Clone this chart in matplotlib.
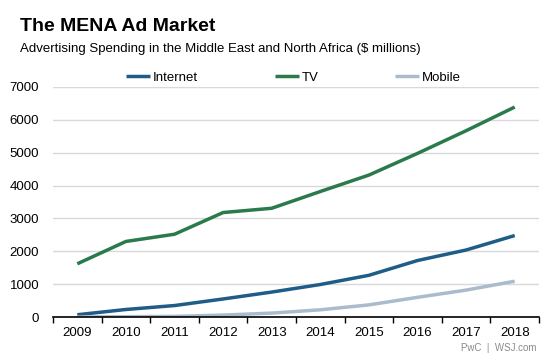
import numpy as np
import matplotlib.pyplot as plt

# Data
years = ['2009', '2010', '2011', '2012', '2013', '2014', '2015', '2016', '2017', '2018']
internet = [70, 230, 350, 550, 760, 990, 1270, 1720, 2040, 2480]
tv = [1620, 2300, 2520, 3180, 3310, 3820, 4320, 4980, 5670, 6390]
mobile = [0, 10, 20, 60, 120, 220, 370, 600, 820, 1090]

c_internet = '#1f5c88'
c_tv = '#2a7a4c'
c_mobile = '#aabccb'

plt.rcParams['font.family'] = ['Liberation Sans', 'DejaVu Sans']

fig = plt.figure(figsize=(5.58, 3.64), dpi=100)
ax = fig.add_axes([0.095, 0.129, 0.871, 0.632])

x = np.arange(len(years))
ax.plot(x, internet, color=c_internet, lw=2.5, label='Internet', solid_capstyle='butt')
ax.plot(x, tv, color=c_tv, lw=2.5, label='TV', solid_capstyle='butt')
ax.plot(x, mobile, color=c_mobile, lw=2.5, label='Mobile', solid_capstyle='butt')

ax.set_xlim(-0.5, len(years) - 0.5)
ax.set_ylim(0, 7000)
ax.set_yticks(range(0, 7001, 1000))
ax.yaxis.grid(True, color='#d9d9d9', lw=1)
ax.set_axisbelow(True)
ax.tick_params(axis='y', length=0, pad=10, labelsize=9.5)

# ticks at category boundaries, labels at centers
ax.set_xticks(np.arange(-0.5, len(years), 1.0))
ax.set_xticklabels([])
ax.set_xticks(x, minor=True)
ax.set_xticklabels(years, minor=True)
ax.tick_params(axis='x', which='major', length=4, width=1, direction='out', color='black')
ax.tick_params(axis='x', which='minor', length=0, pad=7, labelsize=9.5)

for s in ['left', 'right', 'top']:
    ax.spines[s].set_visible(False)
ax.spines['bottom'].set_color('black')
ax.spines['bottom'].set_linewidth(1.2)

fig.text(0.036, 0.915, 'The MENA Ad Market', fontsize=14, fontweight='bold')
fig.text(0.036, 0.858, 'Advertising Spending in the Middle East and North Africa ($ millions)',
         fontsize=9.5)

leg = fig.legend(loc='center left', bbox_to_anchor=(0.226, 0.786), ncol=3, frameon=False,
                 fontsize=9.5, handlelength=1.8, handletextpad=0.25, columnspacing=5.8,
                 borderpad=0, borderaxespad=0)

fig.text(0.962, 0.035, 'PwC  |  WSJ.com', fontsize=7, color='#8a8a8a', ha='right')

fig.savefig('out.png', dpi=100)
